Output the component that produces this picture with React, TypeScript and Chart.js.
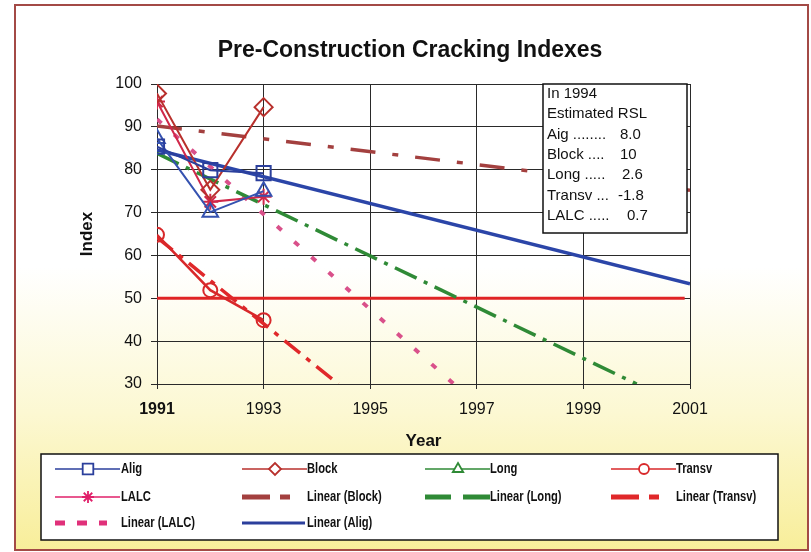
import React, { useEffect, useRef } from 'react';
import { Chart, registerables } from 'chart.js';
import { drawPoint } from 'chart.js/helpers';

Chart.register(...registerables);

const FONT = "'Liberation Sans', Arial, Helvetica, sans-serif";

// ---- data ----
const years = [1991, 1992, 1993];
const aligValues = [85.4, 79.9, 79.2];
const blockValues = [97.8, 75.3, 94.6];
const longValues = [87.3, 70.1, 75.0];
const transvValues = [64.8, 51.9, 44.9];
const lalcValues = [95.9, 72.5, 73.7];

const aligTrendYears = [1991, 2001];
const aligTrendValues = [84.6, 53.4];
const blockTrendYears = [1991, 2001];
const blockTrendValues = [90.2, 75.2];
const longTrendYears = [1991, 2000.0];
const longTrendValues = [83.8, 30];
const transvTrendYears = [1991, 1994.4];
const transvTrendValues = [64.2, 30];
const lalcTrendYears = [1991, 1996.57];
const lalcTrendValues = [91.8, 30];
const thresholdYears = [1991, 2000.9];
const thresholdValues = [50, 50];

const xTickYears = [1991, 1993, 1995, 1997, 1999, 2001];
const xTickLabels = ['1991', '1993', '1995', '1997', '1999', '2001'];

const rslHeader = ['In 1994', 'Estimated RSL'];
const rslLabels = ['Aig ........', 'Block ....', 'Long .....', 'Transv ...', 'LALC .....'];
const rslValues = ['8.0', '10', '2.6', '-1.8', '0.7'];

const legendLabels = [
  'Alig', 'Block', 'Long', 'Transv',
  'LALC', 'Linear (Block)', 'Linear (Long)', 'Linear (Transv)',
  'Linear (LALC)', 'Linear (Alig)',
];

const C_ALIG = '#2b3f9c';
const C_BLOCK = '#b8302c';
const C_LONG_PLOT = '#3552b0';
const C_LONG = '#2f8a36';
const C_TRANSV = '#d8282a';
const C_LALC = '#d0284a';
const C_BLOCK_TR = '#a3403f';
const C_TRANSV_TR = '#e0282a';
const C_LALC_TR = '#d9508a';

const pts = (xs: number[], ys: number[]) => xs.map((x, i) => ({ x, y: ys[i] }));

const legendSpec = [
  { color: C_ALIG, width: 1.5, dash: [] as number[], len: 65, point: 'rect', r: 7.5 },
  { color: C_BLOCK, width: 1.5, dash: [], len: 65, point: 'rectRot', r: 6 },
  { color: C_LONG, width: 1.5, dash: [], len: 65, point: 'triangle', r: 6 },
  { color: C_TRANSV, width: 1.5, dash: [], len: 65, point: 'circle', r: 5 },
  { color: '#e0206a', width: 1.5, dash: [], len: 65, point: 'star', r: 6 },
  { color: C_BLOCK_TR, width: 5, dash: [28, 10, 10, 30], len: 50, point: '', r: 0 },
  { color: C_LONG, width: 5, dash: [26, 12, 28, 30], len: 65, point: '', r: 0 },
  { color: C_TRANSV_TR, width: 5, dash: [28, 10, 10, 30], len: 50, point: '', r: 0 },
  { color: '#e0307a', width: 5, dash: [10, 12], len: 52, point: '', r: 0 },
  { color: C_ALIG, width: 3, dash: [], len: 63, point: '', r: 0 },
];
const legendColX = [55, 242, 425, 611];
const legendRowY = [469, 497, 523];
const legendTextX = [121, 307, 490, 676];

function condensedText(ctx: CanvasRenderingContext2D, text: string, x: number, y: number, size: number, sx: number) {
  ctx.save();
  ctx.translate(x, y);
  ctx.scale(sx, 1);
  ctx.font = `bold ${size}px ${FONT}`;
  ctx.textBaseline = 'middle';
  ctx.textAlign = 'left';
  ctx.fillStyle = '#111';
  ctx.fillText(text, 0, 0);
  ctx.restore();
}

const decorPlugin = {
  id: 'decor',
  beforeDraw(chart: any) {
    const ctx = chart.ctx as CanvasRenderingContext2D;
    ctx.save();
    ctx.fillStyle = '#ffffff';
    ctx.fillRect(0, 0, chart.width, chart.height);
    const g = ctx.createLinearGradient(0, 5, 0, 550);
    g.addColorStop(0, '#ffffff');
    g.addColorStop(0.48, '#ffffff');
    g.addColorStop(0.75, '#fcf8d2');
    g.addColorStop(1, '#f8ee9a');
    ctx.fillStyle = g;
    ctx.fillRect(15, 5, 793, 545);
    ctx.restore();
  },
  afterDraw(chart: any) {
    const ctx = chart.ctx as CanvasRenderingContext2D;
    ctx.save();
    // title
    ctx.font = `bold 23px ${FONT}`;
    ctx.fillStyle = '#111';
    ctx.textAlign = 'center';
    ctx.textBaseline = 'middle';
    ctx.fillText('Pre-Construction Cracking Indexes', 410, 51);

    // RSL box
    ctx.fillStyle = '#ffffff';
    ctx.fillRect(543, 84, 144, 149);
    ctx.strokeStyle = '#111';
    ctx.lineWidth = 1.5;
    ctx.strokeRect(543, 84, 144, 149);
    ctx.fillStyle = '#111';
    ctx.font = `15px ${FONT}`;
    ctx.textAlign = 'left';
    ctx.textBaseline = 'middle';
    const y0 = 94, dy = 20.3;
    rslHeader.forEach((t, i) => ctx.fillText(t, 547, y0 + i * dy));
    const valX = [620, 620, 622, 618, 627];
    rslLabels.forEach((t, i) => {
      const y = y0 + (i + rslHeader.length) * dy;
      ctx.fillText(t, 547, y);
      ctx.fillText(rslValues[i], valX[i], y);
    });

    // legend box
    ctx.fillStyle = '#ffffff';
    ctx.fillRect(41, 454, 737, 86);
    ctx.strokeStyle = '#111';
    ctx.lineWidth = 1.5;
    ctx.strokeRect(41, 454, 737, 86);
    legendLabels.forEach((label, i) => {
      const spec = legendSpec[i];
      const col = i % 4;
      const row = Math.floor(i / 4);
      const x0 = legendColX[col];
      const y = legendRowY[row];
      ctx.save();
      ctx.strokeStyle = spec.color;
      ctx.lineWidth = spec.width;
      ctx.lineCap = 'butt';
      ctx.setLineDash(spec.dash);
      ctx.beginPath();
      ctx.moveTo(x0, y);
      ctx.lineTo(x0 + spec.len, y);
      ctx.stroke();
      ctx.setLineDash([]);
      if (spec.point) {
        ctx.fillStyle = '#ffffff';
        ctx.strokeStyle = spec.color;
        ctx.lineWidth = 1.8;
        drawPoint(ctx, { pointStyle: spec.point, radius: spec.r, rotation: 0, borderWidth: 1.8 } as any, x0 + 33, y);
      }
      ctx.restore();
      condensedText(ctx, label, legendTextX[col], y, 14, 0.8);
    });

    // outer frame
    ctx.strokeStyle = '#a34a46';
    ctx.lineWidth = 2;
    ctx.strokeRect(15, 5, 793, 545);
    ctx.restore();
  },
};

export default function App() {
  const ref = useRef<HTMLCanvasElement | null>(null);
  useEffect(() => {
    document.body.style.margin = '0';
    const canvas = ref.current;
    if (!canvas) return;
    const dataLine = (label: string, xs: number[], ys: number[], color: string, style: string, r: number, w: number) => ({
      label,
      data: pts(xs, ys),
      borderColor: color,
      borderWidth: w,
      pointStyle: style,
      pointRadius: r,
      pointBorderColor: color,
      pointBackgroundColor: 'rgba(255,255,255,0)',
      pointBorderWidth: 2,
      tension: 0,
      fill: false,
    });
    const trend = (label: string, xs: number[], ys: number[], color: string, w: number, dash: number[]) => ({
      label,
      data: pts(xs, ys),
      borderColor: color,
      borderWidth: w,
      borderDash: dash,
      borderCapStyle: 'butt',
      pointRadius: 0,
      tension: 0,
      fill: false,
    });
    const chart = new Chart(canvas, {
      type: 'line',
      data: {
        datasets: [
          dataLine('Alig', years, aligValues, C_ALIG, 'rect', 10, 2),
          dataLine('Block', years, blockValues, C_BLOCK, 'rectRot', 9, 2),
          dataLine('Long', years, longValues, C_LONG_PLOT, 'triangle', 9, 2),
          dataLine('Transv', years, transvValues, C_TRANSV, 'circle', 7, 2.5),
          dataLine('LALC', years, lalcValues, C_LALC, 'star', 8, 2),
          trend('Linear (Alig)', aligTrendYears, aligTrendValues, '#2b45a8', 3.5, []),
          trend('Linear (Block)', blockTrendYears, blockTrendValues, C_BLOCK_TR, 3.5, [25, 17, 6, 17]),
          trend('Linear (Long)', longTrendYears, longTrendValues, C_LONG, 3.5, [24, 8, 4, 8]),
          trend('Linear (Transv)', transvTrendYears, transvTrendValues, C_TRANSV_TR, 3.5, [20, 8, 5, 8]),
          trend('Linear (LALC)', lalcTrendYears, lalcTrendValues, C_LALC_TR, 4, [6, 17]),
          trend('Limit', thresholdYears, thresholdValues, '#e02424', 3, []),
        ] as any,
      },
      options: {
        animation: false,
        responsive: false,
        devicePixelRatio: 1,
        layout: { padding: { left: 0, right: 121, top: 84, bottom: 0 } },
        plugins: {
          legend: { display: false },
          title: { display: false },
          tooltip: { enabled: false },
        },
        scales: {
          x: {
            type: 'linear',
            min: 1991,
            max: 2001,
            afterBuildTicks: (s: any) => {
              s.ticks = xTickYears.map((v) => ({ value: v }));
            },
            afterFit: (s: any) => {
              s.height = 168;
            },
            ticks: {
              autoSkip: false,
              maxRotation: 0,
              padding: 11,
              color: '#111',
              callback: (v: any) => {
                const i = xTickYears.indexOf(Number(v));
                return i >= 0 ? xTickLabels[i] : '';
              },
              font: (c: any) => ({ family: FONT, size: 16, weight: c.index === 0 ? 'bold' : 'normal' }),
            },
            grid: { color: '#2a2a2a', lineWidth: 1, drawTicks: true, tickLength: 5 },
            border: { color: '#2a2a2a', width: 1 },
            title: {
              display: true,
              text: 'Year',
              color: '#111',
              font: { family: FONT, size: 17, weight: 'bold' },
              padding: { top: 0, bottom: 100 },
            },
          },
          y: {
            min: 30,
            max: 100,
            afterFit: (s: any) => {
              s.width = 157;
            },
            ticks: {
              stepSize: 10,
              padding: 9,
              color: '#111',
              font: { family: FONT, size: 16 },
            },
            grid: { color: '#2a2a2a', lineWidth: 1, drawTicks: true, tickLength: 6 },
            border: { color: '#2a2a2a', width: 1 },
            title: {
              display: true,
              text: 'Index',
              color: '#111',
              font: { family: FONT, size: 17, weight: 'bold' },
              padding: { top: 77, bottom: 0 },
            },
          },
        },
      } as any,
      plugins: [decorPlugin],
    });
    return () => chart.destroy();
  }, []);
  return (
    <div style={{ width: 811, height: 552 }}>
      <canvas ref={ref} width={811} height={552} style={{ display: 'block' }} />
    </div>
  );
}
